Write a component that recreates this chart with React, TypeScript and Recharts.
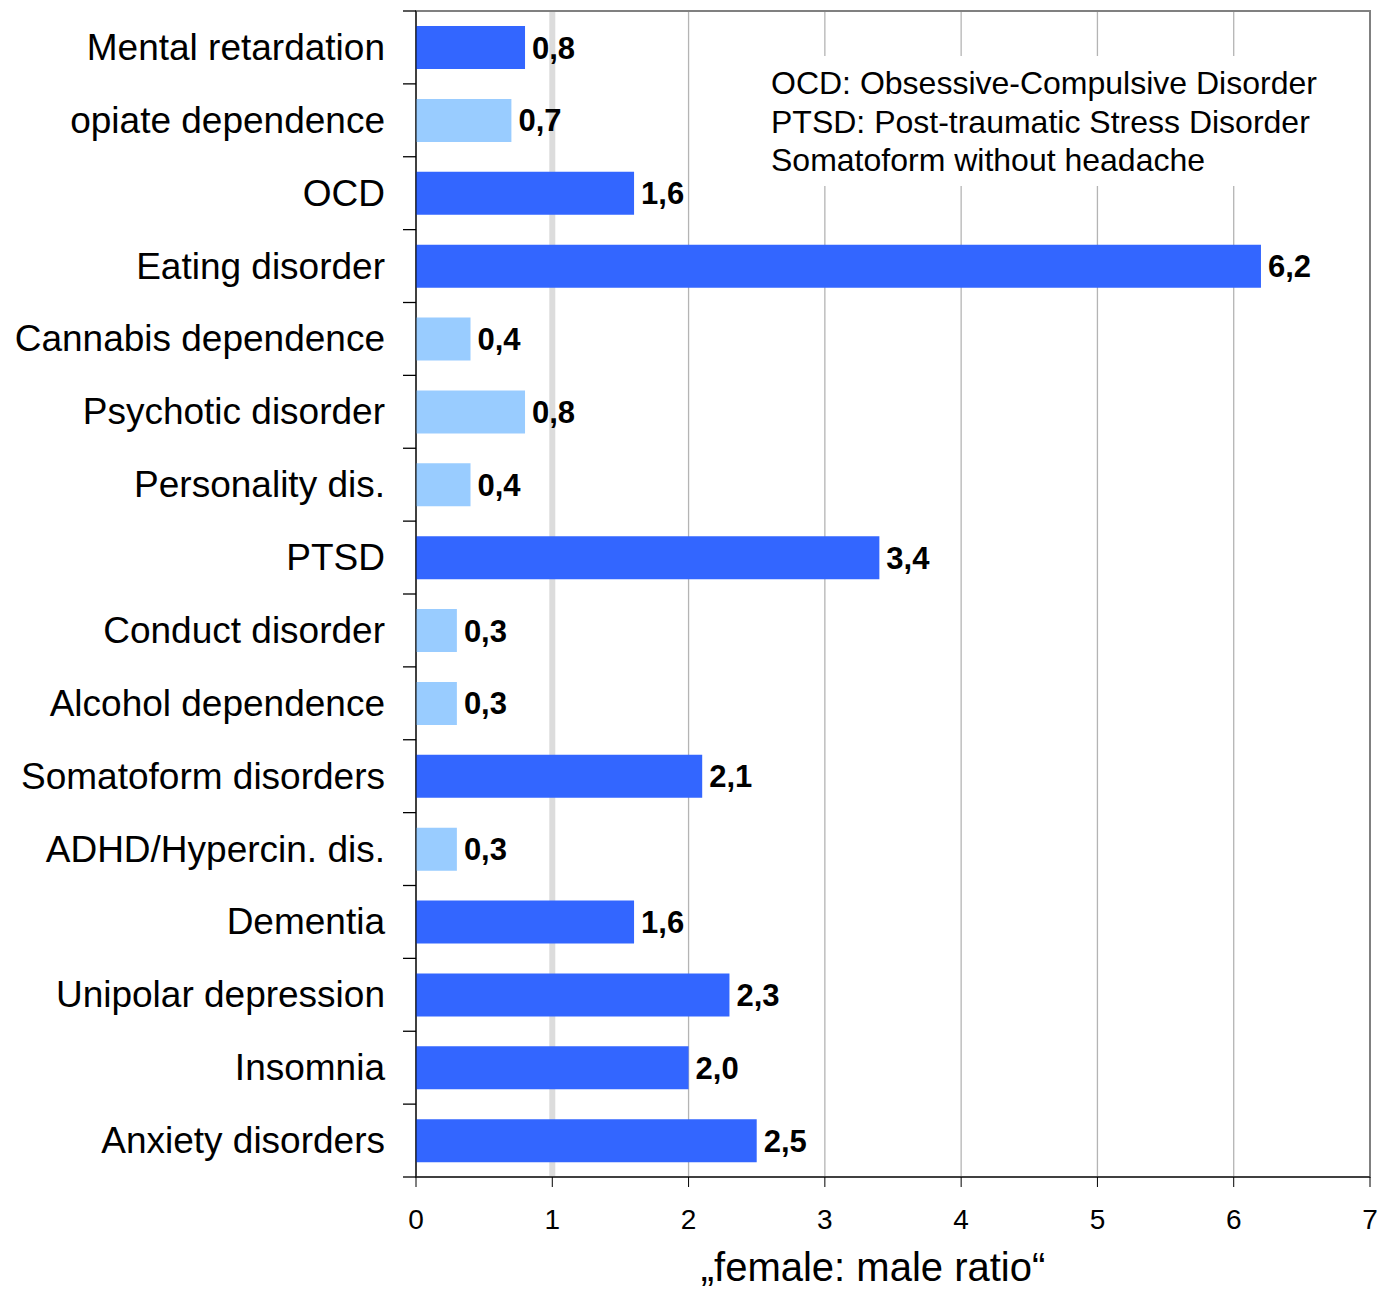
import { Bar, BarChart, CartesianGrid, Cell, LabelList, ReferenceArea, XAxis, YAxis } from 'recharts';

// disorders, top to bottom
const categories = [
  'Mental retardation',
  'opiate dependence',
  'OCD',
  'Eating disorder',
  'Cannabis dependence',
  'Psychotic disorder',
  'Personality dis.',
  'PTSD',
  'Conduct disorder',
  'Alcohol dependence',
  'Somatoform disorders',
  'ADHD/Hypercin. dis.',
  'Dementia',
  'Unipolar depression',
  'Insomnia',
  'Anxiety disorders',
];

const ratios = [0.8, 0.7, 1.6, 6.2, 0.4, 0.8, 0.4, 3.4, 0.3, 0.3, 2.1, 0.3, 1.6, 2.3, 2.0, 2.5];

// which bars are drawn in the light shade
const lightShade = [false, true, false, false, true, true, true, false, true, true, false, true, false, false, false, false];

const xTicks = [0, 1, 2, 3, 4, 5, 6, 7];
const parityLine = [1];

const notes = [
  'OCD: Obsessive-Compulsive Disorder',
  'PTSD: Post-traumatic Stress Disorder',
  'Somatoform without headache',
];

const DARK = '#3366ff';
const LIGHT = '#99ccff';
const FONT = '"Liberation Sans", Arial, sans-serif';

const rows = categories.map((name, i) => ({ name, ratio: ratios[i], light: lightShade[i] }));

const PLOT_TOP = 11;
const PLOT_BOTTOM = 1177;
const BAND = (PLOT_BOTTOM - PLOT_TOP) / categories.length;

function CategoryTick(props: any) {
  const { x, y, payload, index } = props;
  return (
    <g>
      <text x={x - 31} y={y} textAnchor="end" dominantBaseline="central" fontSize={37} fill="#000" fontFamily={FONT}>
        {payload.value}
      </text>
      <line x1={x - 13} x2={x} y1={y - BAND / 2} y2={y - BAND / 2} stroke="#000" strokeWidth={1.3} />
      {index === categories.length - 1 && (
        <line x1={x - 13} x2={x} y1={y + BAND / 2} y2={y + BAND / 2} stroke="#000" strokeWidth={1.3} />
      )}
    </g>
  );
}

const fmt = (v: any) => Number(v).toFixed(1).replace('.', ',');

export default function App() {
  return (
    <div style={{ position: 'absolute', left: 0, top: 0, width: 1379, height: 1289, background: '#fff', fontFamily: FONT }}>
      <BarChart
        width={1379}
        height={1289}
        data={rows}
        layout="vertical"
        margin={{ top: PLOT_TOP, right: 9, left: 0, bottom: 0 }}
        barSize={43}
      >
        <CartesianGrid horizontal={false} vertical stroke="#b4b4b4" strokeWidth={1.3} />
        <CartesianGrid horizontal={false} vertical verticalValues={parityLine} stroke="#dcdcdc" strokeWidth={6} />
        <ReferenceArea x1={0} x2={7} fill="none" fillOpacity={0} stroke="#808080" strokeWidth={2} ifOverflow="visible" />
        <XAxis
          type="number"
          domain={[0, 7]}
          ticks={xTicks}
          interval={0}
          height={112}
          stroke="#000"
          tickSize={10}
          tickMargin={22}
          tick={{ fontSize: 28, fill: '#000', fontFamily: FONT }}
          label={{
            value: '„female: male ratio“',
            position: 'insideBottom',
            offset: 8,
            dx: -20,
            fontSize: 40,
            fill: '#000',
            fontFamily: FONT,
          }}
        />
        <YAxis
          type="category"
          dataKey="name"
          width={416}
          stroke="#000"
          tickLine={false}
          tickSize={0}
          tickMargin={0}
          interval={0}
          tick={<CategoryTick />}
        />
        <Bar dataKey="ratio" isAnimationActive={false}>
          {rows.map((r, i) => (
            <Cell key={i} fill={r.light ? LIGHT : DARK} />
          ))}
          <LabelList
            dataKey="ratio"
            position="right"
            offset={7}
            formatter={fmt}
            style={{ fontSize: 31, fontWeight: 700, fill: '#000', fontFamily: FONT }}
          />
        </Bar>
      </BarChart>
      <div
        style={{
          position: 'absolute',
          left: 762,
          top: 56,
          width: 562,
          height: 130,
          background: '#fff',
          padding: '8px 0 0 9px',
          boxSizing: 'border-box',
          fontSize: 32,
          lineHeight: '38.5px',
          color: '#000',
        }}
      >
        {notes.map((n) => (
          <div key={n} style={{ whiteSpace: 'nowrap' }}>
            {n}
          </div>
        ))}
      </div>
    </div>
  );
}
